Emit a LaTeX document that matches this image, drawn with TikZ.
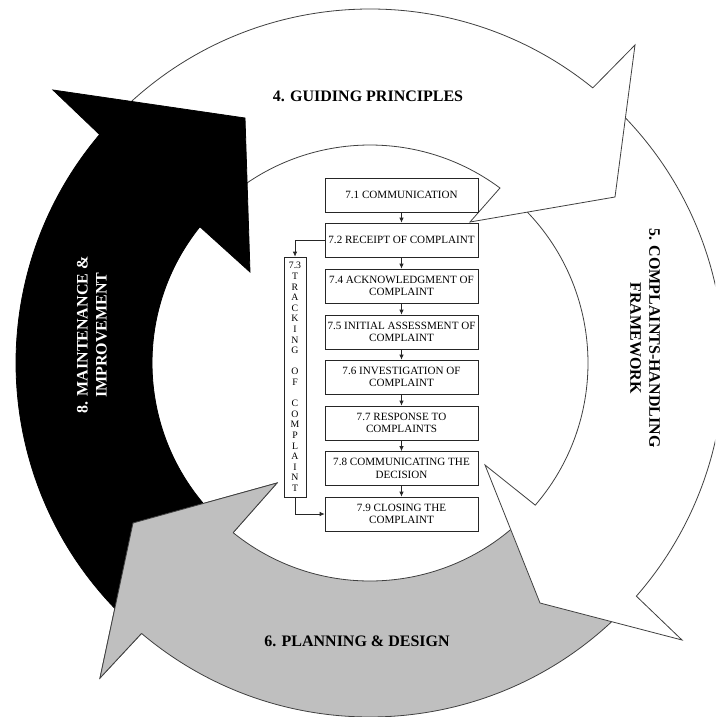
\documentclass[tikz,border=0pt]{standalone}
\usepackage{fontspec}
\setmainfont{Liberation Serif}
\usetikzlibrary{arrows.meta,calc}
\begin{document}
\begin{tikzpicture}[x=1pt,y=-1pt,
  arr/.style={draw=black!75,line width=0.8pt,line join=miter},
  box/.style={draw=black!85,fill=white,line width=0.7pt,minimum width=153pt,minimum height=34pt,inner sep=1pt,align=center,font=\fontsize{11.1}{12.7}\selectfont},
  trackbox/.style={draw=black!85,fill=white,line width=0.7pt,minimum width=22pt,minimum height=240pt,inner sep=0pt,align=center,font=\fontsize{9.8}{10.6}\selectfont},
  conn/.style={draw=black!85,line width=0.7pt,-{Latex[length=5pt,width=4.5pt]}},
  lbl/.style={font=\bfseries\fontsize{16}{19}\selectfont,align=center}]
\useasboundingbox (0,0) rectangle (715,717);
\clip (0,0) rectangle (715,717);
\fill[white] (0,0) rectangle (715,717);
\coordinate (C) at (370,363);
% 6. gray arrow (bottom)
\path[arr,fill=black!25] ($(C)+(43:354)$) arc[start angle=43,end angle=130.2,radius=354]
  -- (100,678) -- (133,523) -- (277,483) -- ($(C)+(128.9:218)$)
  arc[start angle=128.9,end angle=43,radius=218] -- cycle;
% 5. white arrow (right)
\path[arr,fill=white] ($(C)+(-49:354)$) arc[start angle=-49,end angle=41.2,radius=354]
  -- (682,640) -- (540,603) -- (485,465) -- ($(C)+(40.7:218)$)
  arc[start angle=40.7,end angle=-49,radius=218] -- cycle;
% 4. white arrow (top)
\path[arr,fill=white] ($(C)+(-137:354)$) arc[start angle=-137,end angle=-51,radius=354]
  -- (635,45) -- (615,197) -- (470,222) -- ($(C)+(-53.4:218)$)
  arc[start angle=-53.4,end angle=-137,radius=218] -- cycle;
% 8. black arrow (left)
\path[arr,draw=black,fill=black] ($(C)+(132:354)$) arc[start angle=132,end angle=220.2,radius=354]
  -- (53,90) -- (245,118) -- (250,272) -- ($(C)+(218.7:218)$)
  arc[start angle=218.7,end angle=132,radius=218] -- cycle;
% gray head again, over the black tail
\fill[black!25] ($(C)+(130.2:354)$) -- (100,678) -- (133,523) -- (277,483) -- ($(C)+(128.9:218)$) -- cycle;
\draw[arr] ($(C)+(130.2:354)$) -- (100,678) -- (133,523) -- (277,483) -- ($(C)+(128.9:218)$);
% labels
\node[lbl] (g4) at (368,96) {4. GUIDING PRINCIPLES};
\node[lbl,rotate=-90] (g5) at (645,338) {5. COMPLAINTS-HANDLING\\FRAMEWORK};
\node[lbl,rotate=90,text=white] (g8) at (92,335) {8. MAINTENANCE \&\\IMPROVEMENT};
\node[lbl] (g6) at (357,641) {6. PLANNING \& DESIGN};
% flow boxes
\node[box] (b1) at (401.5,195) {7.1 COMMUNICATION};
\node[box] (b2) at (401.5,240) {7.2 RECEIPT OF COMPLAINT};
\node[box] (b4) at (401.5,286) {7.4 ACKNOWLEDGMENT OF\\COMPLAINT};
\node[box] (b5) at (401.5,332) {7.5 INITIAL ASSESSMENT OF\\COMPLAINT};
\node[box] (b6) at (401.5,377) {7.6 INVESTIGATION OF\\COMPLAINT};
\node[box] (b7) at (401.5,423) {7.7 RESPONSE TO\\COMPLAINTS};
\node[box] (b8) at (401.5,468.5) {7.8 COMMUNICATING THE\\DECISION};
\node[box] (b9) at (401.5,514) {7.9 CLOSING THE\\COMPLAINT};
\node[trackbox] (trk) at (295,377) {7.3\\T\\R\\A\\C\\K\\I\\N\\G\\~\\O\\F\\~\\C\\O\\M\\P\\L\\A\\I\\N\\T};
% connectors
\draw[conn] (b1) -- (b2);
\draw[conn] (b2) -- (b4);
\draw[conn] (b4) -- (b5);
\draw[conn] (b5) -- (b6);
\draw[conn] (b6) -- (b7);
\draw[conn] (b7) -- (b8);
\draw[conn] (b8) -- (b9);
\draw[conn] (b2.west) -- (b2.west -| trk.north) -- (trk.north);
\draw[conn] (trk.south) -- (trk.south |- b9.west) -- (b9.west);
\end{tikzpicture}
\end{document}
